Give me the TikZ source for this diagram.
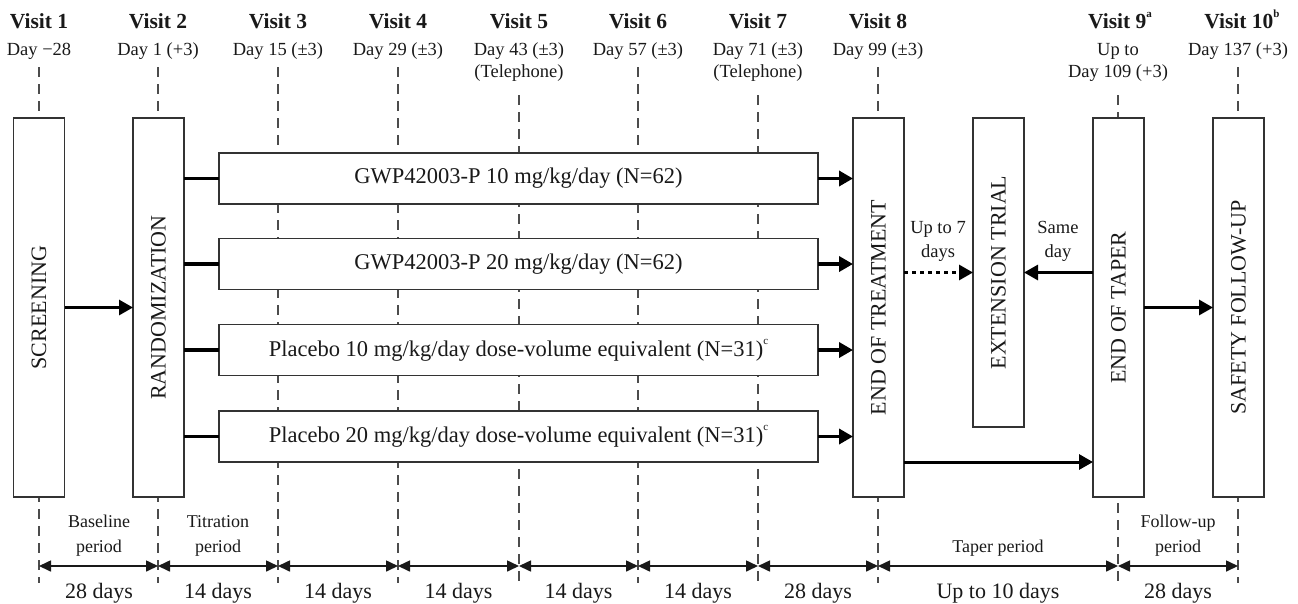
\documentclass[tikz,border=0pt]{standalone}
\usepackage{fontspec}
\setmainfont{Liberation Serif}
\usetikzlibrary{arrows.meta}
\newcommand{\supmark}[1]{\raisebox{0.52em}{\fontsize{11}{11}\selectfont #1}}
\begin{document}
\begin{tikzpicture}[x=1pt,y=-1pt,
  every node/.style={inner sep=0pt, outer sep=0pt, text=black!90},
  boxv/.style={draw=black!80, line width=1.3pt, fill=white, minimum width=51pt, minimum height=379pt},
  armbox/.style={draw=black!80, line width=1.3pt, fill=white, minimum width=599pt, minimum height=51pt, font=\fontsize{22.5}{26}\selectfont},
  vtext/.style={rotate=90, font=\fontsize{22}{26}\selectfont},
  visitlbl/.style={anchor=base, font=\bfseries\fontsize{21.5}{24}\selectfont},
  daylbl/.style={anchor=base, font=\fontsize{18.5}{22}\selectfont},
  periodlbl/.style={anchor=base, font=\fontsize{18}{22}\selectfont},
  durlbl/.style={anchor=base, font=\fontsize{22}{26}\selectfont},
  vline/.style={draw=black!70, line width=1.5pt, dash pattern=on 10pt off 7pt},
  timearrow/.style={draw=black!90, line width=1.6pt, {Triangle[length=12pt,width=11pt]}-{Triangle[length=12pt,width=11pt]}},
  feed/.style={draw=black, line width=3.5pt},
  bigarrow/.style={draw=black, line width=3.5pt, -{Triangle[length=14pt,width=15pt]}},
  midarrow/.style={draw=black, line width=3pt, -{Triangle[length=14pt,width=15pt]}},
  dotarrow/.style={draw=black, line width=3pt, dash pattern=on 4pt off 4pt, -{Triangle[length=14pt,width=15pt]}},
]
\useasboundingbox (0,0) rectangle (1298,603);

% visit lines
\foreach \n/\x/\t in {1/39/67, 2/158/67, 3/278/67, 4/398/67, 5/519/95, 6/638/67, 7/758/95, 8/878/67, 9/1118/95, 10/1238/67} {
  \coordinate (top\n) at (\x,\t);
  \coordinate (bot\n) at (\x,583);
  \coordinate (tl\n) at (\x,566);
  \draw[vline] (top\n) -- (bot\n);
}

% headers
\node[visitlbl] (v1) at (39,28.5) {Visit 1};
\node[visitlbl] (v2) at (158,28.5) {Visit 2};
\node[visitlbl] (v3) at (278,28.5) {Visit 3};
\node[visitlbl] (v4) at (398,28.5) {Visit 4};
\node[visitlbl] (v5) at (519,28.5) {Visit 5};
\node[visitlbl] (v6) at (638,28.5) {Visit 6};
\node[visitlbl] (v7) at (758,28.5) {Visit 7};
\node[visitlbl] (v8) at (878,28.5) {Visit 8};
\node[visitlbl] (v9) at (1120,28.5) {Visit 9\supmark{a}};
\node[visitlbl] (v10) at (1242,28.5) {Visit 10\supmark{b}};

\node[daylbl] (d1) at (39,55) {Day −28};
\node[daylbl] (d2) at (158,55) {Day 1 (+3)};
\node[daylbl] (d3) at (278,55) {Day 15 (±3)};
\node[daylbl] (d4) at (398,55) {Day 29 (±3)};
\node[daylbl] (d5) at (519,55) {Day 43 (±3)};
\node[daylbl] (t5) at (519,77) {(Telephone)};
\node[daylbl] (d6) at (638,55) {Day 57 (±3)};
\node[daylbl] (d7) at (758,55) {Day 71 (±3)};
\node[daylbl] (t7) at (758,77) {(Telephone)};
\node[daylbl] (d8) at (878,55) {Day 99 (±3)};
\node[daylbl] (d9a) at (1118,55) {Up to};
\node[daylbl] (d9b) at (1118,77) {Day 109 (+3)};
\node[daylbl] (d10) at (1238,55) {Day 137 (+3)};

% vertical boxes
\node[boxv] (scr) at (39,307.5) {};
\node[boxv] (rand) at (158.5,307.5) {};
\node[boxv] (eot) at (878.5,307.5) {};
\node[boxv, minimum height=309pt] (ext) at (998.5,272.5) {};
\node[boxv] (taper) at (1118.5,307.5) {};
\node[boxv] (safe) at (1238.5,307.5) {};
\node[vtext] (scrT) at (scr.center) {SCREENING};
\node[vtext] (randT) at (rand.center) {RANDOMIZATION};
\node[vtext] (eotT) at (eot.center) {END OF TREATMENT};
\node[vtext] (extT) at (ext.center) {EXTENSION TRIAL};
\node[vtext] (taperT) at (taper.center) {END OF TAPER};
\node[vtext] (safeT) at (safe.center) {SAFETY FOLLOW-UP};

% arm boxes
\node[armbox] (a1) at (518.5,178.5) {GWP42003-P 10 mg/kg/day (N=62)};
\node[armbox] (a2) at (518.5,264) {GWP42003-P 20 mg/kg/day (N=62)};
\node[armbox] (a3) at (518.5,350) {Placebo 10 mg/kg/day dose-volume equivalent (N=31)\supmark{c}};
\node[armbox] (a4) at (518.5,436.5) {Placebo 20 mg/kg/day dose-volume equivalent (N=31)\supmark{c}};

% connectors
\draw[midarrow] (scr) -- (rand);
\foreach \a in {a1,a2,a3,a4} {
  \draw[feed] (rand.east |- \a.west) -- (\a.west);
  \draw[bigarrow] (\a.east) -- (\a.east -| eot.west);
}
\draw[dotarrow] (eot.east |- ext.west) -- (ext.west);
\draw[midarrow] (taper.west |- ext.east) -- (ext.east);
\draw[midarrow] (eot.east |- a4.south) -- (a4.south -| taper.west);
\draw[midarrow] (taper) -- (safe);

\node[daylbl] (u7a) at (938,233) {Up to 7};
\node[daylbl] (u7b) at (938,257) {days};
\node[daylbl] (sda) at (1058,233) {Same};
\node[daylbl] (sdb) at (1058,257) {day};

% timeline
\foreach \a/\b in {1/2,2/3,3/4,4/5,5/6,6/7,7/8,8/9,9/10}
  \draw[timearrow] (tl\a) -- (tl\b);

\node[periodlbl] (p1a) at (99,527) {Baseline};
\node[periodlbl] (p1b) at (99,552) {period};
\node[periodlbl] (p2a) at (218,527) {Titration};
\node[periodlbl] (p2b) at (218,552) {period};
\node[periodlbl] (p8) at (998,552) {Taper period};
\node[periodlbl] (p9a) at (1178,527) {Follow-up};
\node[periodlbl] (p9b) at (1178,552) {period};

\node[durlbl] (w1) at (99,598) {28 days};
\node[durlbl] (w2) at (218,598) {14 days};
\node[durlbl] (w3) at (338,598) {14 days};
\node[durlbl] (w4) at (458.5,598) {14 days};
\node[durlbl] (w5) at (578.5,598) {14 days};
\node[durlbl] (w6) at (698,598) {14 days};
\node[durlbl] (w7) at (818,598) {28 days};
\node[durlbl] (w8) at (998,598) {Up to 10 days};
\node[durlbl] (w9) at (1178,598) {28 days};
\end{tikzpicture}
\end{document}
